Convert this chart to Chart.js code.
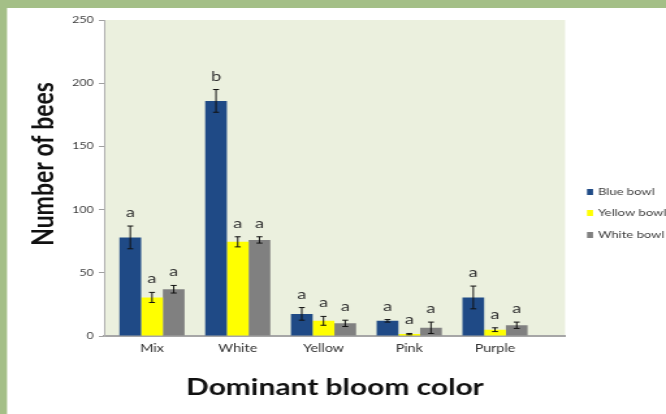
<!DOCTYPE html>
<html>
<head>
<meta charset="utf-8">
<script src="https://cdn.jsdelivr.net/npm/chart.js@4/dist/chart.umd.min.js"></script>
<style>
  html, body { margin: 0; padding: 0; background: #a4bf87; overflow: hidden; }
  #wrap { width: 512px; height: 414px; transform: scaleX(1.30078); transform-origin: 0 0; }
  canvas { display: block; }
</style>
</head>
<body>
<div id="wrap"><canvas id="chart" width="512" height="414"></canvas></div>
<script>
// Bee counts per bowl colour, grouped by dominant bloom colour
const categories = ['Mix', 'White', 'Yellow', 'Pink', 'Purple'];
const seriesNames = ['Blue bowl', 'Yellow bowl', 'White bowl'];

const blueBowl   = [78, 186, 17.5, 12, 30.5];
const yellowBowl = [30.5, 74.5, 12, 1.5, 5];
const whiteBowl  = [37, 76, 10, 6.5, 8.5];

// standard errors
const blueErr   = [9, 9, 5, 1, 9];
const yellowErr = [4, 4, 3.5, 0.5, 1.5];
const whiteErr  = [3, 2.5, 2.5, 4.5, 2.5];

// significance letters
const blueLetters   = ['a', 'b', 'a', 'a', 'a'];
const yellowLetters = ['a', 'a', 'a', 'a', 'a'];
const whiteLetters  = ['a', 'a', 'a', 'a', 'a'];

const yTicks = [0, 50, 100, 150, 200, 250];

const colors = ['#1f4a86', '#ffff00', '#808080'];
const values = [blueBowl, yellowBowl, whiteBowl];
const errors = [blueErr, yellowErr, whiteErr];
const letters = [blueLetters, yellowLetters, whiteLetters];

const FONT = 'Lato, "Liberation Sans", sans-serif';

const datasets = values.map((vals, i) => ({
  label: seriesNames[i],
  data: vals.map((v, j) => ({ x: j, y: v })),
  backgroundColor: colors[i],
  borderWidth: 0,
  categoryPercentage: 0.76,
  barPercentage: 1.0,
  errors: errors[i],
  letters: letters[i]
}));

const backdrop = {
  id: 'backdrop',
  beforeDraw(chart) {
    const { ctx, width, height, chartArea: a } = chart;
    ctx.save();
    ctx.fillStyle = '#a4bf87';
    ctx.fillRect(0, 0, width, height);
    ctx.fillStyle = '#ffffff';
    ctx.fillRect(5.4, 8, width, height);
    ctx.fillStyle = '#ebf0de';
    ctx.fillRect(a.left, a.top, a.right - a.left, a.bottom - a.top);
    ctx.restore();
  }
};

const errorBars = {
  id: 'errorBars',
  afterDatasetsDraw(chart) {
    const { ctx } = chart;
    const y = chart.scales.y;
    ctx.save();
    chart.data.datasets.forEach((ds, i) => {
      const meta = chart.getDatasetMeta(i);
      meta.data.forEach((bar, j) => {
        const v = ds.data[j].y, e = ds.errors[j];
        const top = y.getPixelForValue(v + e);
        const bot = y.getPixelForValue(Math.max(0, v - e));
        const x = bar.x;
        ctx.strokeStyle = '#111';
        ctx.lineWidth = 1;
        ctx.beginPath();
        ctx.moveTo(x, top); ctx.lineTo(x, bot);
        ctx.moveTo(x - 2.3, top); ctx.lineTo(x + 2.3, top);
        ctx.moveTo(x - 2.3, bot); ctx.lineTo(x + 2.3, bot);
        ctx.stroke();
        ctx.fillStyle = '#333';
        ctx.font = '14px ' + FONT;
        ctx.textAlign = 'center';
        ctx.textBaseline = 'alphabetic';
        ctx.fillText(ds.letters[j], x, top - 9);
      });
    });
    ctx.restore();
  }
};

const annotations = {
  id: 'annotations',
  afterDraw(chart) {
    const { ctx } = chart;
    ctx.save();
    // legend
    ctx.font = '10px ' + FONT;
    ctx.textAlign = 'left';
    ctx.textBaseline = 'middle';
    const legendY = [192, 213, 235];
    chart.data.datasets.forEach((ds, i) => {
      ctx.fillStyle = ds.backgroundColor;
      ctx.fillRect(451.3, legendY[i] - 3, 4.6, 6);
      ctx.fillStyle = '#404040';
      ctx.fillText(ds.label, 459.7, legendY[i]);
    });
    // axis titles
    ctx.fillStyle = '#111';
    ctx.font = 'bold 23px ' + FONT;
    ctx.textAlign = 'center';
    ctx.textBaseline = 'middle';
    ctx.fillText('Dominant bloom color', 257.5, 388);
    ctx.translate(33.4, 164);
    ctx.rotate(-Math.PI / 2);
    ctx.fillText('Number of bees', 0, 0);
    ctx.restore();
  }
};

new Chart(document.getElementById('chart'), {
  type: 'bar',
  data: { datasets },
  options: {
    responsive: false,
    animation: false,
    devicePixelRatio: 1,
    layout: { padding: { left: 0, top: 20, right: 77.6, bottom: 0 } },
    plugins: { legend: { display: false }, tooltip: { enabled: false } },
    scales: {
      x: {
        type: 'linear',
        bounds: 'data',
        offset: false,
        min: -0.559,
        max: 4.817,
        grid: { display: false, drawTicks: false },
        border: { display: true, color: '#a6a6a6', width: 2 },
        ticks: {
          autoSkip: false,
          maxRotation: 0,
          padding: 6,
          color: '#333',
          font: { family: FONT, size: 11 },
          callback: v => categories[v]
        },
        afterBuildTicks(s) { s.ticks = categories.map((c, i) => ({ value: i })); },
        afterFit(s) { s.height = 78; }
      },
      y: {
        min: 0,
        max: 250,
        grid: { drawOnChartArea: false, drawTicks: true, tickLength: 4, color: '#a0a0a0' },
        border: { display: true, color: '#b0b0b0', width: 1 },
        ticks: {
          padding: 4,
          color: '#404040',
          font: { family: FONT, size: 9.5 }
        },
        afterBuildTicks(s) { s.ticks = yTicks.map(v => ({ value: v })); },
        afterFit(s) { s.width = 80; }
      }
    }
  },
  plugins: [backdrop, errorBars, annotations]
});
</script>
</body>
</html>
